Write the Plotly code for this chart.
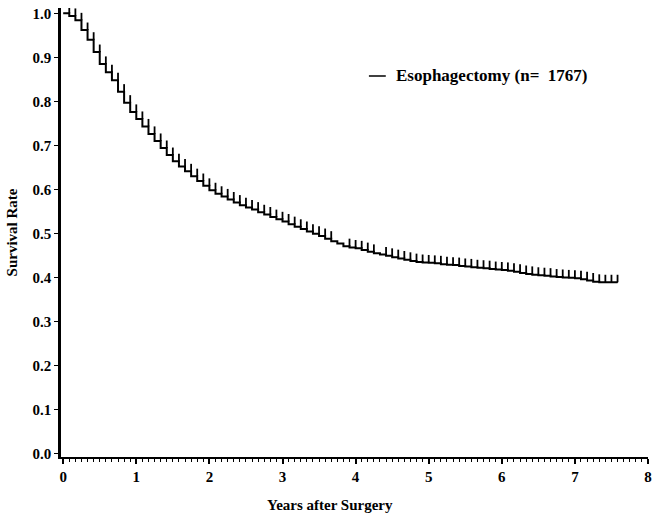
import plotly.graph_objects as go

# Kaplan-Meier estimate of overall survival, sampled at monthly steps
months = list(range(0, 92))
survival = [
    1.000, 0.994, 0.984, 0.962, 0.940, 0.912, 0.885, 0.866, 0.848, 0.822,
    0.797, 0.776, 0.760, 0.743, 0.726, 0.710, 0.694, 0.678, 0.664, 0.652,
    0.641, 0.630, 0.619, 0.608, 0.598, 0.590, 0.584, 0.577, 0.570, 0.564,
    0.559, 0.554, 0.548, 0.543, 0.537, 0.532, 0.527, 0.521, 0.515, 0.510,
    0.504, 0.499, 0.494, 0.488, 0.482, 0.477, 0.471, 0.468, 0.466, 0.462,
    0.458, 0.455, 0.452, 0.449, 0.446, 0.443, 0.440, 0.437, 0.435, 0.434,
    0.433, 0.432, 0.430, 0.429, 0.428, 0.426, 0.425, 0.423, 0.422, 0.421,
    0.419, 0.418, 0.417, 0.415, 0.413, 0.410, 0.408, 0.406, 0.405, 0.404,
    0.402, 0.401, 0.400, 0.399, 0.398, 0.396, 0.393, 0.390, 0.389, 0.389,
    0.389, 0.389,
]
last_follow_up_years = 7.57

# months carrying censored observations (tick marks on the curve);
# each mark sits on the level reached just before that month's step
censor_months = [m for m in range(1, 92) if m not in (45, 46, 52)]

series_name = "Esophagectomy (n=\u00a0\u00a01767)"
x_title = "Years after Surgery"
y_title = "Survival Rate"
x_ticks = [0, 1, 2, 3, 4, 5, 6, 7, 8]
y_ticks = [0.0, 0.1, 0.2, 0.3, 0.4, 0.5, 0.6, 0.7, 0.8, 0.9, 1.0]

years = [m / 12 for m in months]
curve_x = years + [last_follow_up_years]
curve_y = survival + [survival[-1]]

censor_x = [m / 12 for m in censor_months]
censor_y = [survival[m - 1] for m in censor_months]

font_family = "Liberation Serif, DejaVu Serif, serif"
bold = dict(family=font_family, size=15, color="black", weight="bold")

# plot area in pixels (used to place the key and the x title)
L, R, T, B, W, H = 61, 2, 8, 61, 654, 518
plot_w = W - L - R
plot_h = H - T - B

fig = go.Figure()
fig.add_trace(go.Scatter(
    x=curve_x, y=curve_y, mode="lines", line_shape="hv",
    line=dict(color="black", width=2), name=series_name, showlegend=False,
))
fig.add_trace(go.Scatter(
    x=censor_x, y=censor_y, mode="markers",
    marker=dict(size=1, color="black"),
    error_y=dict(type="data", symmetric=False,
                 array=[0.017] * len(censor_x), arrayminus=[0] * len(censor_x),
                 width=0, thickness=1.8, color="black"),
    showlegend=False, hoverinfo="skip",
))

# key: short line sample followed by the series label
key_y = 1 - (76 - T) / plot_h
fig.add_shape(type="line", xref="paper", yref="paper",
              x0=(371 - L) / plot_w, x1=(388 - L) / plot_w, y0=key_y, y1=key_y,
              line=dict(color="black", width=1.5))
fig.add_annotation(xref="paper", yref="paper", x=(396 - L) / plot_w, y=key_y,
                   xanchor="left", yanchor="middle", showarrow=False,
                   text=series_name, font=dict(bold, size=17))

# x-axis title, set slightly left of the axis centre
fig.add_annotation(xref="paper", yref="paper", x=(332 - L) / plot_w,
                   y=-(505 - (H - B)) / plot_h, xanchor="center",
                   yanchor="middle", showarrow=False, text=x_title, font=bold)

fig.update_layout(
    width=W, height=H,
    margin=dict(l=L, r=R, t=T, b=B),
    paper_bgcolor="white", plot_bgcolor="white",
    font=bold,
)
fig.update_xaxes(
    range=[-0.03, 8.0], tickvals=x_ticks, ticktext=[str(v) for v in x_ticks],
    ticklabeloverflow="allow",
    showline=True, linecolor="black", linewidth=2,
    ticks="outside", ticklen=5, tickwidth=1.5, tickcolor="black",
    minor=dict(dtick=1 / 12, tick0=0, ticks="outside", ticklen=2.5,
               tickwidth=1, tickcolor="black"),
    showgrid=False, zeroline=False,
    tickfont=bold,
)
fig.update_yaxes(
    range=[-0.008, 1.012], tickvals=y_ticks,
    ticktext=[f"{v:.1f}" for v in y_ticks],
    showline=True, linecolor="black", linewidth=2.5,
    ticks="outside", ticklen=4, tickwidth=1.2, tickcolor="black",
    showgrid=False, zeroline=False,
    tickfont=bold,
    title=dict(text=y_title, standoff=12, font=bold),
)

fig.write_html("out.html")
